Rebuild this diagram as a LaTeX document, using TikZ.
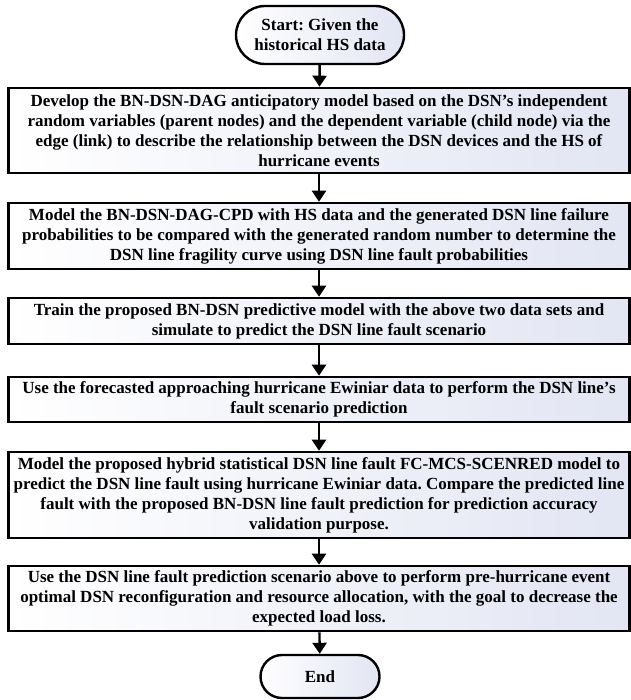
\documentclass[tikz,border=0pt]{standalone}
\usepackage{fontspec}
\setmainfont{Liberation Serif}
\frenchspacing
\usetikzlibrary{arrows.meta,shapes.misc}
\definecolor{boxblue}{RGB}{226,229,243}
\tikzset{
  base/.style={font=\fontsize{17}{20}\selectfont\bfseries, align=center,
    inner sep=0pt, left color=white, right color=boxblue, draw=black},
  stepbox/.style={base, rectangle, line width=2.6pt, minimum width=621pt},
  term/.style={base, rounded rectangle, line width=2.4pt},
  arr/.style={line width=2.4pt, -{Triangle[width=14pt,length=11pt]}}
}
\begin{document}
\begin{tikzpicture}[x=1pt,y=-1pt]
\useasboundingbox (0,0) rectangle (630,700);
\node[term, minimum width=168pt, minimum height=58pt] (start) at (320,35)
  {Start: Given the\\historical HS data};
\node[stepbox, minimum height=85pt] (b1) at (319,130.5)
  {Develop the BN-DSN-DAG anticipatory model based on the DSN’s independent\\
   random variables (parent nodes) and the dependent variable (child node) via the\\
   edge (link) to describe the relationship between the DSN devices and the HS of\\
   hurricane events};
\node[stepbox, minimum height=66pt] (b2) at (319,236)
  {Model the BN-DSN-DAG-CPD with HS data and the generated DSN line failure\\
   probabilities to be compared with the generated random number to determine the\\
   DSN line fragility curve using DSN line fault probabilities};
\node[stepbox, minimum height=46pt] (b3) at (319,321)
  {Train the proposed BN-DSN predictive model with the above two data sets and\\
   simulate to predict the DSN line fault scenario};
\node[stepbox, minimum height=45pt] (b4) at (319,399.5)
  {Use the forecasted approaching hurricane Ewiniar data to perform the DSN line’s\\
   fault scenario prediction};
\node[stepbox, minimum height=86pt] (b5) at (319,495)
  {Model the proposed hybrid statistical DSN line fault FC-MCS-SCENRED model to\\
   predict the DSN line fault using hurricane Ewiniar data. Compare the predicted line\\
   fault with the proposed BN-DSN line fault prediction for prediction accuracy\\
   validation purpose.};
\node[stepbox, minimum height=65pt] (b6) at (319,598.5)
  {Use the DSN line fault prediction scenario above to perform pre-hurricane event\\
   optimal DSN reconfiguration and resource allocation, with the goal to decrease the\\
   expected load loss.};
\node[term, minimum width=119pt, minimum height=43pt] (end) at (320,676.5) {End};
\draw[arr] (start) -- (b1);
\draw[arr] (b1) -- (b2);
\draw[arr] (b2) -- (b3);
\draw[arr] (b3) -- (b4);
\draw[arr] (b4) -- (b5);
\draw[arr] (b5) -- (b6);
\draw[arr] (b6) -- (end);
\end{tikzpicture}
\end{document}
